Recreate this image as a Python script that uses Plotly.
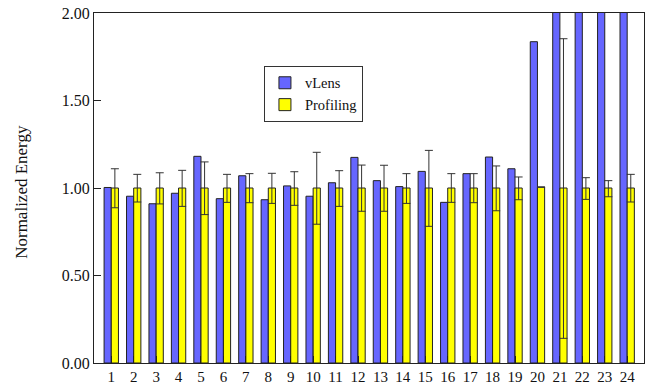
import plotly.graph_objects as go

categories = list(range(1, 25))
tick_labels = [str(c) for c in categories]

vlens = [1.003, 0.953, 0.910, 0.970, 1.181, 0.939, 1.070, 0.933, 1.012, 0.953,
         1.030, 1.175, 1.042, 1.008, 1.095, 0.918, 1.082, 1.177, 1.110, 1.836,
         2.60, 3.10, 2.50, 2.80]
profiling = [1.0] * 19 + [1.005] + [1.0] * 4
prof_upper = [1.110, 1.078, 1.087, 1.101, 1.149, 1.078, 1.082, 1.084, 1.093, 1.204,
              1.099, 1.131, 1.130, 1.082, 1.215, 1.082, 1.082, 1.126, 1.063, 1.005,
              1.853, 1.059, 1.042, 1.078]
prof_lower = [0.887, 0.920, 0.909, 0.895, 0.848, 0.918, 0.916, 0.912, 0.901, 0.793,
              0.895, 0.867, 0.867, 0.912, 0.781, 0.918, 0.916, 0.870, 0.933, 1.005,
              0.141, 0.935, 0.950, 0.920]
y_ticks = [0, 0.5, 1.0, 1.5, 2.0]
y_tick_labels = ["0.00", "0.50", "1.00", "1.50", "2.00"]

err_plus = [u - v for u, v in zip(prof_upper, profiling)]
err_minus = [v - l for l, v in zip(prof_lower, profiling)]

FONT = "Liberation Serif, Times New Roman, serif"

fig = go.Figure()
fig.add_trace(go.Bar(
    x=categories, y=vlens, name="vLens",
    marker=dict(color="#6666FF", line=dict(color="#222222", width=1)),
))
fig.add_trace(go.Bar(
    x=categories, y=profiling, name="Profiling",
    marker=dict(color="#FFFF00", line=dict(color="#222222", width=1)),
    error_y=dict(type="data", symmetric=False, array=err_plus, arrayminus=err_minus,
                 color="#333333", thickness=1, width=4),
))

fig.update_layout(
    width=651, height=385,
    margin=dict(l=94, r=7, t=13, b=22, autoexpand=False),
    paper_bgcolor="white", plot_bgcolor="white",
    barmode="group", bargap=0.36, bargroupgap=0,
    font=dict(family=FONT, size=15, color="#111111"),
    showlegend=True,
    legend=dict(x=0.309, y=0.849, xanchor="left", yanchor="top",
                bgcolor="white", bordercolor="#333333", borderwidth=1,
                font=dict(family=FONT, size=14.5, color="#111111"),
                tracegroupgap=0, itemwidth=30),
    annotations=[dict(text="Normalized Energy", textangle=-90,
                      xref="paper", yref="paper", x=-0.131, y=0.489,
                      xanchor="center", yanchor="middle", showarrow=False,
                      font=dict(family=FONT, size=17, color="#111111"))],
)
fig.update_xaxes(
    range=[0.23, 24.75], tickmode="array", tickvals=categories, ticktext=tick_labels,
    showgrid=False, zeroline=False, showline=True, linecolor="#222222", linewidth=1,
    mirror=True, ticks="inside", ticklen=7, tickcolor="#222222",
    tickfont=dict(family=FONT, size=15), automargin=False,
)
fig.update_yaxes(
    range=[0, 2], tickmode="array", tickvals=y_ticks, ticktext=y_tick_labels,
    showgrid=False, zeroline=False, showline=True, linecolor="#222222", linewidth=1,
    mirror=True, ticks="inside", ticklen=7, tickcolor="#222222",
    tickfont=dict(family=FONT, size=16), automargin=False,
)

fig.write_html("out.html", config={"displayModeBar": False},
               post_script="document.body.style.margin='0';document.body.style.overflow='hidden';")
